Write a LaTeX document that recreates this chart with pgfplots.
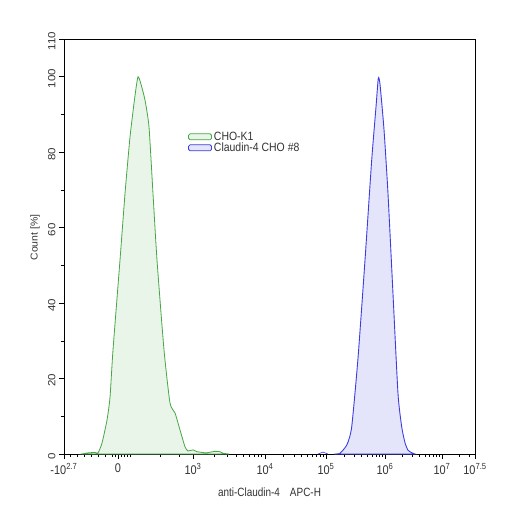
\documentclass[border=0pt]{standalone}
\usepackage{graphicx}
\usepackage{pgfplots}
\pgfplotsset{compat=1.18}
\usepackage{fontspec}
\setmainfont{Liberation Sans}
\definecolor{gline}{RGB}{70,165,70}
\definecolor{gfill}{RGB}{232,245,232}
\definecolor{bline}{RGB}{60,60,225}
\definecolor{bfill}{RGB}{228,228,250}
\newcommand{\sx}[1]{\scalebox{1}[1.15]{#1}}
\newcommand{\sy}[1]{\scalebox{1.1}[1]{#1}}
\begin{document}
\begin{tikzpicture}[x=1bp,y=1bp]
\path (-64bp,-65bp) rectangle (450bp,454bp);
\begin{axis}[
  at={(0,0)}, anchor=south west,
  scale only axis, width=411bp, height=415bp,
  xmin=0, xmax=411, ymin=0, ymax=110,
  axis line style={black, line width=0.8pt},
  tick pos=left, tick align=outside,
  major tick length=5bp, minor tick length=3bp,
  tick style={black, line width=0.6pt},
  xtick={0,54,129,201,262,321,378,411},
  xticklabels={\sx{-10\textsuperscript{2.7}},\sx{0},\sx{10\textsuperscript{3}},\sx{10\textsuperscript{4}},\sx{10\textsuperscript{5}},\sx{10\textsuperscript{6}},\sx{10\textsuperscript{7}},\sx{10\textsuperscript{7.5}}},
  minor xtick={6,13,20,27,34,41,48,51,57,60,63,66,96,115,
    150.7,163.3,172.3,179.3,185,189.8,194,197.7,
    219.4,230.1,237.7,243.6,248.5,252.5,256.1,259.2,
    279.8,290.1,297.5,303.2,307.9,311.9,315.3,318.3,
    338.2,348.2,355.3,360.8,365.3,369.2,372.5,375.4,395.2,405.2},
  ytick={0,20,40,60,80,100,110},
  yticklabels={\sy{0},\sy{20},\sy{40},\sy{60},\sy{80},\sy{100},\sy{110}},
  minor ytick={10,30,50,70,90},
  xticklabel style={font=\fontsize{11}{12}\selectfont, text=black!80, yshift=-1bp},
  yticklabel style={font=\fontsize{10.5}{12}\selectfont, text=black!80, rotate=90, anchor=south, xshift=-2bp},
  xlabel={\scalebox{1}[1.2]{anti-Claudin-4\quad APC-H}},
  ylabel={\scalebox{1.05}[1]{Count [\%]}},
  label style={font=\fontsize{10}{12}\selectfont, text=black!80},
  xlabel style={at={(axis description cs:0.5,0)}, anchor=center, yshift=-38bp},
  ylabel style={at={(axis description cs:0,0.5)}, anchor=center, yshift=29bp, xshift=9bp},
  legend style={draw=none, fill=none, at={(axis cs:121,86.5)}, anchor=north west,
    font=\fontsize{10.5}{12}\selectfont, text=black!80, row sep=-3pt,
    legend cell align=left},
  legend image code/.code={\draw[#1, rounded corners=1.5bp, line width=0.8pt] (0bp,-3bp) rectangle (23bp,3bp);},
]
\addplot[gline, line width=0.8pt, fill=gfill, smooth, tension=0.35] coordinates {
(18,0)(24,0.3)(31,0.4)(34,0.3)(38,2.9)(43,9)(46,15)(49,27.6)(56,51.4)(61,69)(66,84)(71,95)(74,100)(77,98)(81,93.8)(85,86.7)(89,69)(93,51.4)(100,27.6)(106,13.5)(111,10.9)(116,6.4)(121,1.9)(124,0.8)(129,1.1)(133,0.6)(136,0.5)(142,0.3)(151,0.7)(156,0.6)(159,0.2)(165,0)
} \closedcycle;
\addlegendentry{\scalebox{1}[1.15]{CHO-K1}}
\addplot[bline, line width=0.9pt, fill=bfill, smooth, tension=0.35] coordinates {
(270,0)(276,0.2)(283,2.5)(287.7,7.2)(294,25.4)(301,51.4)(307.7,77.9)(312,92)(314.3,99.6)(316,98)(320,86)(324,69)(329,42.4)(334,16)(337.7,7.2)(341,3)(344,1)(348,0.3)(351,0)
} \closedcycle;
\addlegendentry{\scalebox{1}[1.15]{Claudin-4 CHO \#8}}
\addplot[bline, line width=0.6pt, forget plot] coordinates {(254,0)(257,0.3)(259,0.5)(261,0.3)(264,0)};
\end{axis}
\end{tikzpicture}
\end{document}
